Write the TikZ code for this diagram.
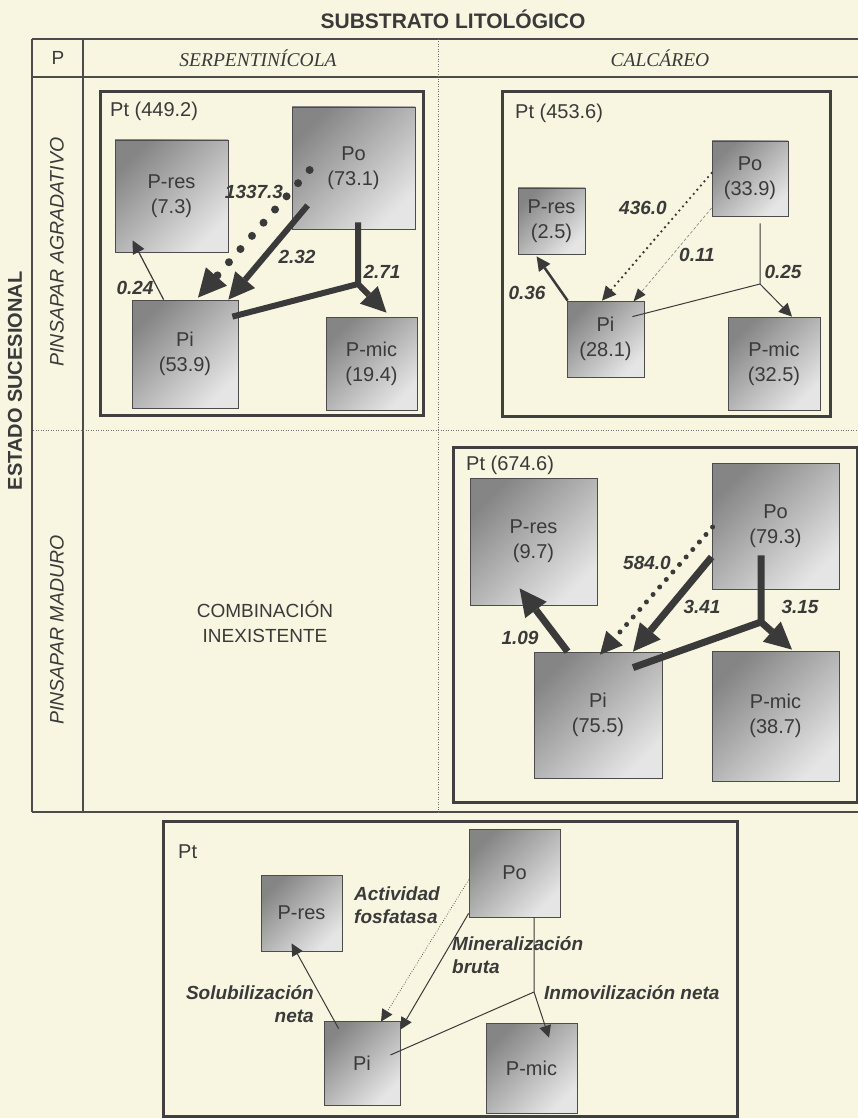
\documentclass[tikz,border=0pt]{standalone}
\usepackage{fontspec}
\setmainfont{Liberation Sans}
\newfontfamily\serifface{Liberation Serif}
\usetikzlibrary{arrows.meta, calc}
\definecolor{paper}{RGB}{248,246,224}
\definecolor{ink}{RGB}{58,58,58}

\begin{document}
\begin{tikzpicture}[
  x=1pt, y=-1pt,
  pool/.style={draw=black!70, line width=0.8pt, top color=black!48, bottom color=black!10,
    shading angle=45, text=ink, font=\fontsize{20}{25}\selectfont, align=center, inner sep=0pt},
  sz/.style 2 args={minimum width=#1, minimum height=#2},
  panel/.style={draw=black!75, line width=3pt},
  tabline/.style={draw=black!70, line width=1.3pt},
  sepline/.style={draw=black!55, line width=0.9pt, dash pattern=on 1pt off 1.5pt},
  ptlab/.style={text=ink, font=\fontsize{20}{24}\selectfont, anchor=west, inner sep=0pt},
  rate/.style={text=ink, font=\fontsize{19}{23}\selectfont\bfseries\itshape, inner sep=0pt},
  flow/.style 2 args={draw=ink, line width=#1, -{Triangle[length=#2, width=#2, line width=0pt]}},
  trunk/.style={draw=ink, line width=#1},
  dotflow/.style n args={3}{draw=ink, line width=#1, line cap=round, dash pattern=on 0pt off #2,
    -{Triangle[length=#3, width=#3, line width=0pt]}},
  faint/.style={draw=black!45, line width=0.7pt, dash pattern=on 3pt off 2pt,
    -{Triangle[length=13pt, width=10pt, line width=0pt, color=ink]}}
]

% Paper
\fill[paper] (0,0) rectangle (858,1118);
\useasboundingbox (0,0) rectangle (858,1118);

% Table
\node[text=ink, font=\bfseries\fontsize{21}{25}\selectfont] (title) at (453,19) {SUBSTRATO LITOLÓGICO};
\draw[tabline] (32,39) -- (858,39);
\draw[tabline] (32,77) -- (858,77);
\draw[tabline] (32,812) -- (858,812);
\draw[tabline] (32,39) -- (32,812);
\draw[tabline] (83,39) -- (83,812);
\draw[sepline] (438,39) -- (438,812);
\draw[sepline] (33,430) -- (858,430);

\node[text=ink, font=\fontsize{19}{22}\selectfont] (hp) at (58,58) {P};
\node[text=ink, font=\serifface\itshape\fontsize{19.5}{22}\selectfont] (hserp) at (258,58) {SERPENTINÍCOLA};
\node[text=ink, font=\serifface\itshape\fontsize{19.5}{22}\selectfont] (hcalc) at (660,58) {CALCÁREO};

\node[text=ink, rotate=90, font=\bfseries\fontsize{20}{24}\selectfont] (estado) at (15,381) {ESTADO SUCESIONAL};
\node[text=ink, rotate=90, font=\itshape\fontsize{19.5}{23}\selectfont] (agrad) at (57,252) {PINSAPAR AGRADATIVO};
\node[text=ink, rotate=90, font=\itshape\fontsize{19.5}{23}\selectfont] (madur) at (57,630) {PINSAPAR MADURO};
\node[text=ink, align=center, font=\fontsize{19}{25}\selectfont] (inex) at (265,622) {COMBINACIÓN\\INEXISTENTE};

% Panel 1: serpentinicola, agradativo
\draw[panel] (100,92) rectangle (423,415);
\node[ptlab] (pt1) at (110,111) {Pt (449.2)};
\node[pool, sz={113pt}{112pt}] (res1) at (171.5,196) {P-res\\(7.3)};
\node[pool, sz={123pt}{122pt}] (po1) at (353.5,168) {Po\\(73.1)};
\node[pool, sz={106pt}{108pt}] (pi1) at (185,354) {Pi\\(53.9)};
\node[pool, sz={91pt}{93pt}] (mic1) at (371.5,363.5) {P-mic\\(19.4)};

\draw[flow={1.2pt}{13pt}] ($(pi1.north west)+(32,0)$) -- ($(res1.south west)+(18,-12)$);
\draw[dotflow={8pt}{17.5pt}{28pt}] ($(po1.west)+(18,2)$) -- ($(pi1.north)+(13,-2)$);
\draw[flow={6pt}{26pt}] ($(po1.south west)+(16,-24)$) -- ($(pi1.north east)+(-10,0)$);
\coordinate (j1) at (358,284);
\draw[flow={6pt}{25pt}] ($(po1.south)+(4.5,-7)$) -- (j1) -- ($(mic1.north)+(15,-4)$);
\draw[trunk=6pt] (j1) -- ($(pi1.north east)+(-6,17)$);

\node[rate] (r1a) at (135,288) {0.24};
\node[rate] (r1b) at (254,192) {1337.3};
\node[rate] (r1c) at (297,257) {2.32};
\node[rate] (r1d) at (382,272) {2.71};

% Panel 2: calcareo, agradativo
\draw[panel] (502,92) rectangle (830,416);
\node[ptlab] (pt2) at (515,113) {Pt (453.6)};
\node[pool, sz={67pt}{66pt}] (res2) at (551.5,221) {P-res\\(2.5)};
\node[pool, sz={76pt}{75pt}] (po2) at (750,178.5) {Po\\(33.9)};
\node[pool, sz={77pt}{76pt}] (pi2) at (605.5,339) {Pi\\(28.1)};
\node[pool, sz={92pt}{93pt}] (mic2) at (774,363.5) {P-mic\\(32.5)};

\draw[flow={2.5pt}{14pt}] ($(pi2.north west)+(1,0)$) -- ($(res2.south west)+(19,2)$);
\draw[dotflow={2.6pt}{5.5pt}{14pt}] ($(po2.west)+(0,-5.5)$) -- ($(pi2.north)+(-3.5,0)$);
\draw[faint] ($(po2.west)+(0,29.5)$) -- ($(pi2.north east)+(-11,1)$);
\coordinate (j2) at (760,284);
\draw[flow={1pt}{13pt}] ($(po2.south)+(10,7)$) -- (j2) -- ($(mic2.north)+(18,0)$);
\draw[trunk=1pt] (j2) -- ($(pi2.north east)+(-12,16)$);

\node[rate] (r2a) at (527,293) {0.36};
\node[rate] (r2b) at (643,208) {436.0};
\node[rate] (r2c) at (697,255) {0.11};
\node[rate] (r2d) at (783,272) {0.25};

% Panel 3: calcareo, maduro
\draw[panel] (453,447) rectangle (857,802);
\node[ptlab] (pt3) at (466,465) {Pt (674.6)};
\node[pool, sz={127pt}{127pt}] (res3) at (533.5,541.5) {P-res\\(9.7)};
\node[pool, sz={127pt}{126pt}] (po3) at (775.5,526) {Po\\(79.3)};
\node[pool, sz={128pt}{126pt}] (pi3) at (598,715) {Pi\\(75.5)};
\node[pool, sz={127pt}{130pt}] (mic3) at (775.5,716) {P-mic\\(38.7)};

\draw[flow={7pt}{27pt}] ($(pi3.north west)+(34,0)$) -- ($(res3.south west)+(50,-17)$);
\draw[dotflow={5pt}{10pt}{22pt}] ($(po3.west)+(1,1)$) -- ($(pi3.north)+(2,3)$);
\draw[flow={7pt}{27pt}] ($(po3.west)+(0,31)$) -- ($(pi3.north)+(35,0)$);
\coordinate (j3) at (761,622);
\draw[flow={7pt}{27pt}] ($(po3.south)+(-14.5,-34)$) -- (j3) -- ($(mic3.north)+(16.5,-1)$);
\draw[trunk=7pt] (j3) -- ($(pi3.north)+(35,16)$);

\node[rate] (r3a) at (520,638) {1.09};
\node[rate] (r3b) at (647,563) {584.0};
\node[rate] (r3c) at (702,607) {3.41};
\node[rate] (r3d) at (800,607) {3.15};

% Legend panel
\draw[panel] (163,821) rectangle (737,1116);
\node[ptlab] (ptB) at (178,852) {Pt};
\node[pool, sz={91pt}{88pt}] (poB) at (514.5,873) {Po};
\node[pool, sz={81pt}{76pt}] (resB) at (301.5,913) {P-res};
\node[pool, sz={76pt}{84pt}] (piB) at (362,1063) {Pi};
\node[pool, sz={91pt}{90pt}] (micB) at (531.5,1068) {P-mic};

\draw[flow={1pt}{12pt}] ($(piB.north west)+(15,8)$) -- ($(resB.south west)+(31,-8)$);
\draw[dotflow={1pt}{2.5pt}{12pt}] ($(poB.west)+(0,7)$) -- ($(piB.north)+(19,1)$);
\draw[flow={1pt}{12pt}] ($(poB.south west)+(0,-4)$) -- ($(piB.north east)+(0,9)$);
\coordinate (jB) at (534,992);
\draw[flow={1pt}{12pt}] ($(poB.south)+(19.5,0)$) -- (jB) -- ($(micB.north)+(17.5,15)$);
\draw[trunk=1pt] (jB) -- ($(piB.east)+(-10,-8)$);

\node[rate, anchor=west, align=left] (actfos) at (354,905) {Actividad\\fosfatasa};
\node[rate, anchor=west, align=left] (minbr) at (452,955) {Mineralización\\bruta};
\node[rate, anchor=east, align=right] (solneta) at (314,1004) {Solubilización\\neta};
\node[rate, anchor=west] (inmneta) at (544,993) {Inmovilización neta};

\end{tikzpicture}
\end{document}
